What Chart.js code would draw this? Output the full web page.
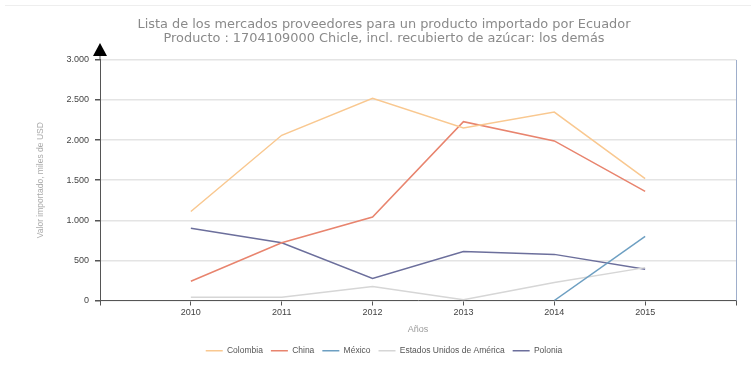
<!DOCTYPE html>
<html><head><meta charset="utf-8">
<script src="https://cdn.jsdelivr.net/npm/chart.js@4/dist/chart.umd.min.js"></script>
<style>html,body{margin:0;padding:0;background:#fff;}#wrap{width:751px;height:368px;}</style>
</head><body><div id="wrap"><canvas id="c" width="751" height="368"></canvas></div>
<script>
const years = [2010, 2011, 2012, 2013, 2014, 2015];
const colombia = [1110, 2060, 2520, 2150, 2350, 1520];
const china = [240, 720, 1040, 2230, 1990, 1360];
const mexico = [null, null, null, null, 0, 800];
const usa = [40, 40, 175, 10, 225, 410];
const polonia = [900, 720, 275, 610, 575, 390];
const seriesNames = ['Colombia', 'China', 'México', 'Estados Unidos de América', 'Polonia'];
const seriesColors = ['#f9c890', '#e8846e', '#6d9fc2', '#d6d6d6', '#6c6f9c'];
const yTicks = [0, 500, 1000, 1500, 2000, 2500, 3000];
const titleLines = ['Lista de los mercados proveedores para un producto importado por Ecuador', 'Producto : 1704109000 Chicle, incl. recubierto de azúcar: los demás'];

const allSeries = [colombia, china, mexico, usa, polonia];
const fmt = v => String(v).replace(/\B(?=(\d{3})+(?!\d))/g, '.');

const decor = {
  id: 'decor',
  afterDraw(chart) {
    const {ctx, chartArea: a} = chart;
    ctx.save();
    ctx.strokeStyle = '#9eaecb';
    ctx.lineWidth = 1;
    ctx.beginPath(); ctx.moveTo(a.right + 0.5, a.top); ctx.lineTo(a.right + 0.5, a.bottom); ctx.stroke();
    ctx.strokeStyle = '#555';
    ctx.beginPath(); ctx.moveTo(a.left, a.top); ctx.lineTo(a.left, a.top - 6); ctx.stroke();
    ctx.fillStyle = '#000';
    ctx.beginPath();
    ctx.moveTo(a.left - 7, a.top - 4);
    ctx.lineTo(a.left + 7, a.top - 4);
    ctx.lineTo(a.left, a.top - 17);
    ctx.closePath(); ctx.fill();
    ctx.strokeStyle = '#eeeeee';
    ctx.beginPath(); ctx.moveTo(5, 5.5); ctx.lineTo(751, 5.5); ctx.stroke();
    ctx.restore();
  }
};

new Chart(document.getElementById('c'), {
  type: 'line',
  data: {
    datasets: allSeries.map((arr, i) => ({
      label: seriesNames[i],
      data: years.map((yr, j) => ({x: yr, y: arr[j]})),
      borderColor: seriesColors[i],
      backgroundColor: seriesColors[i],
      borderWidth: 1.5,
      pointRadius: 0,
      tension: 0,
      spanGaps: false
    }))
  },
  plugins: [decor],
  options: {
    responsive: false,
    animation: false,
    layout: {padding: {left: 32, right: 15, top: 0, bottom: 3}},
    plugins: {
      title: {
        display: true,
        text: titleLines,
        color: '#8a8a8a',
        font: {family: 'DejaVu Sans', size: 12.9, weight: 'normal', lineHeight: 1.12},
        padding: {top: 17, bottom: 14}
      },
      legend: {
        position: 'bottom',
        labels: {
          usePointStyle: true,
          pointStyle: 'line',
          pointStyleWidth: 17,
          boxHeight: 8,
          color: '#555',
          font: {family: 'Liberation Sans', size: 8.5},
          padding: 8
        }
      },
      tooltip: {enabled: false}
    },
    scales: {
      x: {
        type: 'linear',
        min: 2009, max: 2016,
        afterBuildTicks: s => { s.ticks = [2009,2010,2011,2012,2013,2014,2015,2016].map(v => ({value: v})); },
        ticks: {
          callback: v => (v === 2009 || v === 2016) ? '' : String(v),
          color: '#444', font: {family: 'Liberation Sans', size: 9}, padding: 2, maxRotation: 0, autoSkip: false
        },
        grid: {drawOnChartArea: false, drawTicks: true, tickLength: 5, tickColor: '#555'},
        border: {color: '#555', width: 1},
        title: {display: true, text: 'Años', color: '#9a9a9a', font: {family: 'Liberation Sans', size: 9}, padding: {top: 8, bottom: 4}},
        afterFit: s => { s.height = 38; }
      },
      y: {
        min: 0, max: 3000,
        afterBuildTicks: s => { s.ticks = yTicks.map(v => ({value: v})); },
        ticks: {callback: v => fmt(v), color: '#444', font: {family: 'Liberation Sans', size: 9}, padding: 6},
        grid: {color: '#e4e4e4', lineWidth: 1.5, tickLength: 5, tickColor: '#555'},
        border: {color: '#555', width: 1},
        title: {display: true, text: 'Valor importado, miles de USD', color: '#aaaaaa', font: {family: 'Liberation Sans', size: 8.5}},
        afterFit: s => { s.width = 68; }
      }
    }
  }
});
</script></body></html>
